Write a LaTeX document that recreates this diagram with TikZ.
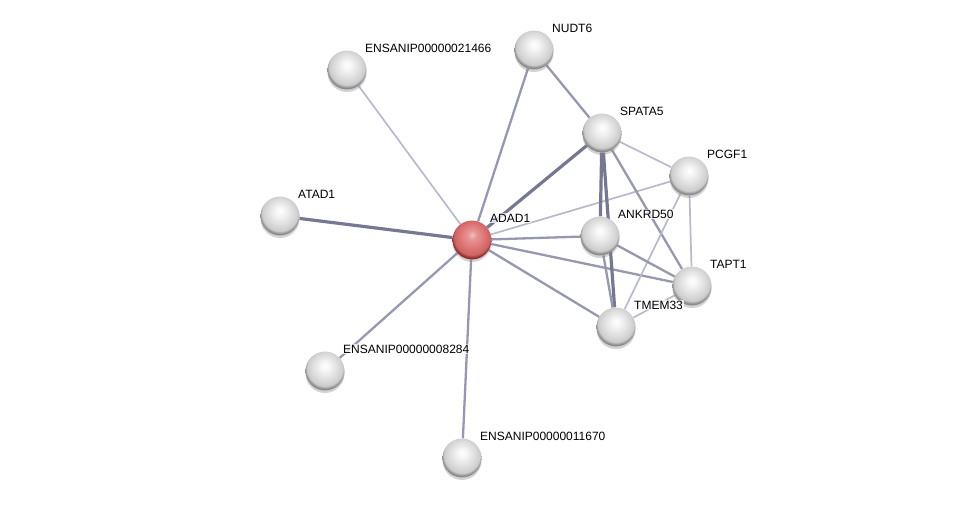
\documentclass[tikz,border=0pt]{standalone}
\usepackage{fontspec}
\setmainfont{Liberation Sans}
\usepackage{tikz}
\usetikzlibrary{shadows, backgrounds}

\definecolor{linkdark}{RGB}{118,120,146}
\definecolor{linkmid}{RGB}{150,152,175}
\definecolor{linklight}{RGB}{184,186,204}
\definecolor{ballred}{RGB}{222,112,112}
\definecolor{rimred}{RGB}{150,45,45}

\pgfdeclareradialshading{greyball}{\pgfpoint{0bp}{7bp}}{%
  color(0bp)=(white); color(6bp)=(white!96!black);
  color(17bp)=(white!86!black); color(23bp)=(white!80!black);
  color(26bp)=(white!55!black); color(50bp)=(white!55!black)}
\pgfdeclareradialshading{redball}{\pgfpoint{0bp}{7bp}}{%
  color(0bp)=(ballred!45!white); color(6bp)=(ballred!75!white);
  color(17bp)=(ballred); color(23bp)=(ballred!90!black);
  color(26bp)=(rimred); color(50bp)=(rimred)}

\tikzset{
  protein/.style={circle, minimum size=39pt, inner sep=0pt, shading=greyball,
    drop shadow={shadow xshift=0pt, shadow yshift=-2.5pt, opacity=0.35}},
  query/.style={protein, shading=redball},
  lbl/.style={anchor=base west, inner sep=1pt, font=\fontsize{12}{12}\selectfont,
    fill=white, fill opacity=0.75, text opacity=1},
  strong/.style={linkdark, line width=3.2pt},
  medium/.style={linkmid, line width=2.3pt},
  weak/.style={linklight, line width=1.7pt}
}

\begin{document}
\begin{tikzpicture}[x=1pt, y=-1pt]
\useasboundingbox (0,0) rectangle (976,504);

% proteins
\node[query]   (adad1)   at (472,240) {};
\node[protein] (nudt6)   at (534,50)  {};
\node[protein] (ens21466) at (347,70) {};
\node[protein] (spata5)  at (602,133) {};
\node[protein] (pcgf1)   at (689,176) {};
\node[protein] (atad1)   at (280,216) {};
\node[protein] (ankrd50) at (600,236) {};
\node[protein] (tapt1)   at (692,286) {};
\node[protein] (tmem33)  at (616,327) {};
\node[protein] (ens8284) at (325,371) {};
\node[protein] (ens11670) at (462,458) {};

% interactions
\begin{scope}[on background layer]
\draw[strong] (adad1) -- (atad1);
\draw[strong] (adad1) -- (spata5);
\draw[medium] (adad1) -- (nudt6);
\draw[weak]   (adad1) -- (ens21466);
\draw[medium] (adad1) -- (ens8284);
\draw[medium] (adad1) -- (ens11670);
\draw[weak]   (adad1) -- (pcgf1);
\draw[medium] (adad1) -- (ankrd50);
\draw[medium] (adad1) -- (tapt1);
\draw[medium] (adad1) -- (tmem33);
\draw[medium] (nudt6) -- (spata5);
\draw[weak]   (spata5) -- (pcgf1);
\draw[strong] (spata5) -- (ankrd50);
\draw[strong] (spata5) -- (tmem33);
\draw[medium] (spata5) -- (tapt1);
\draw[weak]   (pcgf1) -- (tapt1);
\draw[weak]   (pcgf1) -- (tmem33);
\draw[medium] (ankrd50) -- (tapt1);
\draw[medium] (ankrd50) -- (tmem33);
\draw[weak]   (tapt1) -- (tmem33);
\end{scope}

% names
\node[lbl] (adad1-l)   at (489,222) {ADAD1};
\node[lbl] (nudt6-l)   at (551,32)  {NUDT6};
\node[lbl] (ens21466-l) at (364,52) {ENSANIP00000021466};
\node[lbl] (spata5-l)  at (619,115) {SPATA5};
\node[lbl] (pcgf1-l)   at (706,158) {PCGF1};
\node[lbl] (atad1-l)   at (297,198) {ATAD1};
\node[lbl] (ankrd50-l) at (617,218) {ANKRD50};
\node[lbl] (tapt1-l)   at (709,268) {TAPT1};
\node[lbl] (tmem33-l)  at (633,309) {TMEM33};
\node[lbl] (ens8284-l) at (342,353) {ENSANIP00000008284};
\node[lbl] (ens11670-l) at (479,440) {ENSANIP00000011670};

\end{tikzpicture}
\end{document}
